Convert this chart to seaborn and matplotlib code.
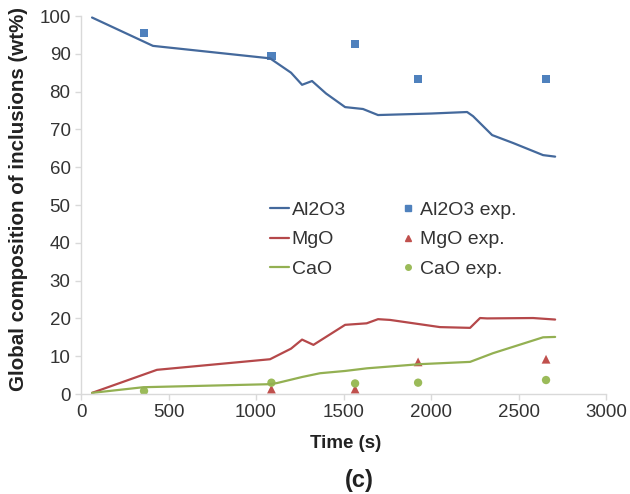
import matplotlib
matplotlib.use("Agg")
import matplotlib.pyplot as plt
import seaborn as sns
from matplotlib.lines import Line2D

# Simulated composition (wt%) vs. time (s)
al2o3_t = [63, 411, 1080, 1200, 1263, 1320, 1400, 1509, 1611, 1697, 2000, 2206, 2240, 2349, 2469, 2640, 2709]
al2o3_v = [99.6, 92.1, 88.8, 85.0, 81.8, 82.8, 79.5, 75.9, 75.4, 73.8, 74.2, 74.6, 73.5, 68.5, 66.4, 63.2, 62.8]

mgo_t = [63, 434, 1080, 1200, 1263, 1328, 1509, 1632, 1697, 1766, 2051, 2223, 2280, 2320, 2583, 2709]
mgo_v = [0.3, 6.4, 9.2, 12.0, 14.4, 13.0, 18.3, 18.7, 19.8, 19.6, 17.7, 17.5, 20.1, 20.0, 20.1, 19.7]

cao_t = [63, 356, 1080, 1120, 1263, 1366, 1509, 1634, 1937, 2223, 2354, 2640, 2709]
cao_v = [0.3, 1.8, 2.6, 2.9, 4.5, 5.5, 6.1, 6.8, 7.9, 8.5, 10.8, 15.0, 15.1]

# Measured composition
exp_t = [360, 1088, 1566, 1926, 2657]
al2o3_exp = [95.5, 89.4, 92.6, 83.3, 83.3]
mgo_exp = [0.5, 1.3, 1.3, 8.5, 9.2]
cao_exp = [0.8, 3.0, 2.8, 3.0, 3.7]

x_ticks = [0, 500, 1000, 1500, 2000, 2500, 3000]
y_ticks = list(range(0, 101, 10))

c_al_line, c_mg_line, c_ca_line = "#44699C", "#B5484A", "#93B052"
c_al_pt, c_mg_pt, c_ca_pt = "#4F81BD", "#C0504D", "#9BBB59"

sns.set_theme(style="ticks")
plt.rcParams["font.family"] = ["Liberation Sans", "DejaVu Sans"]

fig = plt.figure(figsize=(6.3, 4.94), dpi=100)
ax = fig.add_axes([0.1286, 0.2024, 0.8334, 0.7652])

sns.lineplot(x=al2o3_t, y=al2o3_v, ax=ax, color=c_al_line, lw=1.6)
sns.lineplot(x=mgo_t, y=mgo_v, ax=ax, color=c_mg_line, lw=1.6)
sns.lineplot(x=cao_t, y=cao_v, ax=ax, color=c_ca_line, lw=1.6)

sns.scatterplot(x=exp_t, y=al2o3_exp, ax=ax, marker="s", s=36, color=c_al_pt, edgecolor="none")
sns.scatterplot(x=exp_t, y=mgo_exp, ax=ax, marker="^", s=40, color=c_mg_pt, edgecolor="none")
sns.scatterplot(x=exp_t, y=cao_exp, ax=ax, marker="o", s=36, color=c_ca_pt, edgecolor="none")

ax.set_xlim(0, 3000)
ax.set_ylim(0, 100)
ax.set_xticks(x_ticks)
ax.set_yticks(y_ticks)
ax.tick_params(labelsize=13.5, colors="#d9d9d9", labelcolor="#333333", length=4, width=1)
for side in ("top", "right"):
    ax.spines[side].set_visible(False)
for side in ("left", "bottom"):
    ax.spines[side].set_color("#d9d9d9")
    ax.spines[side].set_linewidth(1)

ax.set_xlabel("")
ax.set_ylabel("")
fig.text(0.548, 0.103, "Time (s)", ha="center", va="center", fontsize=13.5, fontweight="bold", color="#222222")
fig.text(0.029, 0.597, "Global composition of inclusions (wt%)", ha="center", va="center",
         rotation=90, fontsize=14.8, fontweight="bold", color="#222222")
fig.text(0.571, 0.028, "(c)", ha="center", va="center", fontsize=17, fontweight="bold", color="#222222")

handles = [
    Line2D([], [], color=c_al_line, lw=1.6),
    Line2D([], [], color=c_mg_line, lw=1.6),
    Line2D([], [], color=c_ca_line, lw=1.6),
    Line2D([], [], ls="none", marker="s", ms=4, color=c_al_pt),
    Line2D([], [], ls="none", marker="^", ms=4.5, color=c_mg_pt),
    Line2D([], [], ls="none", marker="o", ms=4, color=c_ca_pt),
]
labels = ["Al2O3", "MgO", "CaO", "Al2O3 exp.", "MgO exp.", "CaO exp."]
ax.legend(handles, labels, ncol=2, frameon=False, fontsize=14,
          loc="upper left", bbox_to_anchor=(270 / 630, 1 - 201.5 / 494),
          bbox_transform=fig.transFigure, borderpad=0, borderaxespad=0,
          handlelength=1.0, handletextpad=0.12, columnspacing=2.7, labelspacing=0.6,
          labelcolor="#333333")

fig.savefig("out.png", dpi=100)
